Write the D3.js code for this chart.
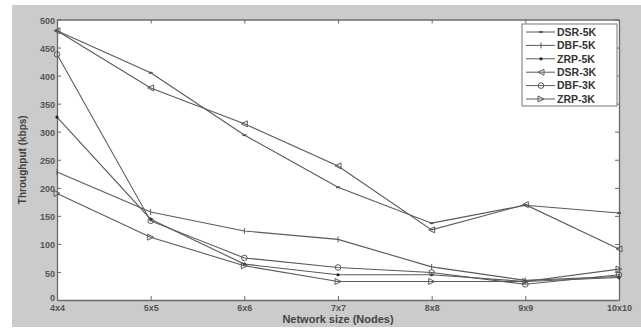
<!DOCTYPE html>
<html>
<head>
<meta charset="utf-8">
<script src="https://cdn.jsdelivr.net/npm/d3@7"></script>
<style>
  body { margin: 0; background: #fff; }
  svg { display: block; font-family: "Liberation Sans", Arial, sans-serif; }
</style>
</head>
<body>
<div class="chartsWrapper"></div>
<script>
// values
var sizes = ["4x4", "5x5", "6x6", "7x7", "8x8", "9x9", "10x10"];
var yTicks = [0, 50, 100, 150, 200, 250, 300, 350, 400, 450, 500];
var seriesNames = ["DSR-5K", "DBF-5K", "ZRP-5K", "DSR-3K", "DBF-3K", "ZRP-3K"];
var markerKinds = ["dash", "plus", "dot", "triLeft", "circle", "triRight"];

var dsr5 = [480, 405, 294, 201, 137, 169, 155];
var dbf5 = [228, 157, 123, 108, 59, 35, 42];
var zrp5 = [326, 144, 64, 45, 45, 33, 40];
var dsr3 = [480, 378, 314, 239, 125, 170, 91];
var dbf3 = [438, 141, 75, 58, 49, 28, 45];
var zrp3 = [190, 112, 61, 33, 33, 33, 55];

var allSeries = [dsr5, dbf5, zrp5, dsr3, dbf3, zrp3];

var width = 641, height = 329;
var margin = {left: 57, right: 22, top: 19.5, bottom: 29};

var svg = d3.select('.chartsWrapper').append('svg')
    .attr('width', width)
    .attr('height', height);

// grey figure background
svg.append('rect')
    .attr('x', 12).attr('y', 5)
    .attr('width', width - 12).attr('height', 322)
    .style('fill', '#cbcbcb');

var x = d3.scalePoint()
    .domain(sizes)
    .range([margin.left, width - margin.right]);

var y = d3.scaleLinear()
    .domain([0, 500])
    .range([height - margin.bottom, margin.top]);

svg.append('rect')
    .attr('x', margin.left).attr('y', margin.top)
    .attr('width', x.range()[1] - margin.left)
    .attr('height', y(0) - margin.top)
    .style('fill', '#fff');

var axisColor = '#6a6a6a';

var gx = svg.append('g')
    .attr('transform', 'translate(0,' + y(0) + ')')
    .call(d3.axisBottom(x).tickSizeInner(-4).tickSizeOuter(0).tickPadding(5));
var gxTop = svg.append('g')
    .attr('transform', 'translate(0,' + y(500) + ')')
    .call(d3.axisTop(x).tickSizeInner(-4).tickSizeOuter(0).tickFormat(''));
var gy = svg.append('g')
    .attr('transform', 'translate(' + margin.left + ',0)')
    .call(d3.axisLeft(y).tickValues(yTicks).tickSizeInner(-4).tickSizeOuter(0).tickPadding(2));
var gyRight = svg.append('g')
    .attr('transform', 'translate(' + x.range()[1] + ',0)')
    .call(d3.axisRight(y).tickValues(yTicks).tickSizeInner(-4).tickSizeOuter(0).tickFormat(''));

[gx, gxTop, gy, gyRight].forEach(function(g) {
    g.selectAll('path').style('stroke', axisColor).style('stroke-width', 1.3);
    g.selectAll('line').style('stroke', axisColor);
    g.selectAll('text')
        .style('fill', '#555')
        .style('font-size', '9px')
        .style('font-weight', 'bold');
});
gy.selectAll('text').attr('dy', function(d) { return d === 0 ? '0.05em' : '0.45em'; });

// axis titles
svg.append('text')
    .attr('x', (margin.left + x.range()[1]) / 2)
    .attr('y', 323)
    .attr('text-anchor', 'middle')
    .style('font-size', '11px')
    .style('font-weight', 'bold')
    .style('fill', '#444')
    .text('Network size (Nodes)');

svg.append('text')
    .attr('transform', 'translate(26,' + ((margin.top + y(0)) / 2) + ') rotate(-90)')
    .attr('text-anchor', 'middle')
    .style('font-size', '10px')
    .style('font-weight', 'bold')
    .style('fill', '#444')
    .text('Throughput (kbps)');

var lineColor = '#5a5a5a';

function drawMarker(g, kind, cx, cy) {
    var s = 3;
    if (kind === 'dash') {
        g.append('line').attr('x1', cx - 2).attr('x2', cx + 2).attr('y1', cy).attr('y2', cy)
            .style('stroke', lineColor).style('stroke-width', 2);
    } else if (kind === 'plus') {
        g.append('path').attr('d', 'M' + cx + ',' + (cy - s) + 'V' + (cy + s))
            .style('stroke', lineColor).style('stroke-width', 1);
    } else if (kind === 'dot') {
        g.append('circle').attr('cx', cx).attr('cy', cy).attr('r', 1.6)
            .style('fill', '#222');
    } else if (kind === 'triLeft') {
        g.append('path').attr('d', 'M' + (cx - s) + ',' + cy + 'L' + (cx + s) + ',' + (cy - s) + 'L' + (cx + s) + ',' + (cy + s) + 'Z')
            .style('fill', 'none').style('stroke', lineColor);
    } else if (kind === 'circle') {
        g.append('circle').attr('cx', cx).attr('cy', cy).attr('r', 2.8)
            .style('fill', 'none').style('stroke', lineColor);
    } else if (kind === 'triRight') {
        g.append('path').attr('d', 'M' + (cx + s) + ',' + cy + 'L' + (cx - s) + ',' + (cy - s) + 'L' + (cx - s) + ',' + (cy + s) + 'Z')
            .style('fill', 'none').style('stroke', lineColor);
    }
}

var line = d3.line()
    .x(function(d, i) { return x(sizes[i]); })
    .y(function(d) { return y(d); });

allSeries.forEach(function(vals, k) {
    var g = svg.append('g');
    g.append('path')
        .datum(vals)
        .attr('d', line)
        .style('fill', 'none')
        .style('stroke', lineColor)
        .style('stroke-width', 1.1);
    vals.forEach(function(v, i) {
        drawMarker(g, markerKinds[k], x(sizes[i]), y(v));
    });
});

// legend
var lg = svg.append('g').attr('transform', 'translate(522,24)');
lg.append('rect')
    .attr('width', 95).attr('height', 82)
    .style('fill', '#fff')
    .style('stroke', '#777');
seriesNames.forEach(function(name, k) {
    var ly = 8 + k * 13.4;
    lg.append('line')
        .attr('x1', 4).attr('x2', 33).attr('y1', ly).attr('y2', ly)
        .style('stroke', lineColor);
    drawMarker(lg, markerKinds[k], 19, ly);
    lg.append('text')
        .attr('x', 35).attr('y', ly).attr('dy', '0.36em')
        .style('font-size', '10.5px')
        .style('font-weight', 'bold')
        .style('fill', '#333')
        .text(name);
});
</script>
</body>
</html>
